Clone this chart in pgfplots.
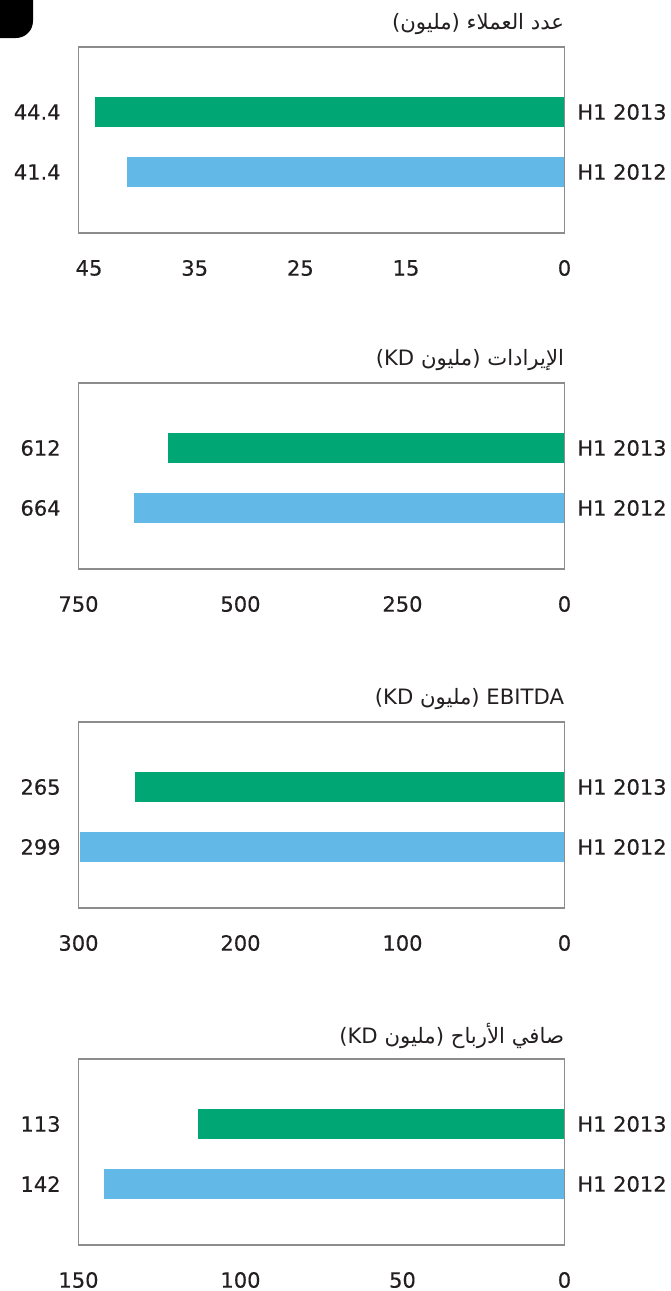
\documentclass[border=0pt]{standalone}
\usepackage{fontspec}
\setmainfont{DejaVu Sans}
\newfontfamily\lblfam{DejaVu Sans}[FakeBold=0.35]
\newfontfamily\arabicfont[Script=Arabic]{DejaVu Sans}
\TeXXeTstate=1
\usepackage{pgfplots}
\pgfplotsset{compat=1.18}
\definecolor{gbar}{RGB}{0,166,116}
\definecolor{bbar}{RGB}{98,185,232}
\definecolor{boxc}{RGB}{140,140,140}
\definecolor{txt}{RGB}{35,31,32}
\newcommand\ar[1]{{\arabicfont\beginR #1\endR}}
\newcommand\lblfont{\lblfam\fontsize{10.5}{13}\selectfont}
\newcommand\ttlfont{\fontsize{10.6}{12}\selectfont}
\pgfplotsset{panel/.style={
  scale only axis, width=243pt, height=93pt,
  xbar, bar width=0.49,
  x dir=reverse, xmin=0,
  ymin=-1.017, ymax=2.083,
  ytick={0,1},
  major tick length=0pt,
  axis line style={draw=boxc, line width=0.6pt},
  tick label style={font=\lblfont, text=txt},
  xticklabel style={anchor=center, yshift=-17.5pt},
  yticklabel style={inner sep=0pt, xshift=-8.75pt},
  /pgf/number format/assume math mode=true,
  /pgf/number format/1000 sep={},
  clip=false,
  anchor=north west,
}}
\tikzset{rlab/.style={anchor=west, font=\lblfont, text=txt, xshift=6.25pt, inner sep=0pt},
  ttl/.style={anchor=east, font=\ttlfont, text=txt, yshift=11.5pt, inner sep=0pt}}
\begin{document}
\begin{tikzpicture}
\useasboundingbox (0,0) rectangle (335pt,-645.5pt);
\fill[black] (0,0) -- (16.5pt,0) -- (16.5pt,-10.5pt) arc[start angle=0,end angle=-90,radius=8.5pt] -- (0,-19pt) -- cycle;

% Panel 1
\begin{axis}[panel, at={(39.25pt,-23.5pt)}, xmax=46, xtick={0,15,25,35,45},
  yticklabels={41.4,44.4}]
\addplot[fill=gbar, draw=none, bar shift=0pt] coordinates {(44.4,1)};
\addplot[fill=bbar, draw=none, bar shift=0pt] coordinates {(41.4,0)};
\node[rlab] at (axis cs:0,1) {H1 2013};
\node[rlab] at (axis cs:0,0) {H1 2012};
\node[ttl] at (axis cs:0,2.083) {(\ar{مليون}) \ar{عدد العملاء}};
\end{axis}

% Panel 2
\begin{axis}[panel, at={(39.25pt,-191.5pt)}, xmax=750, xtick={0,250,500,750},
  yticklabels={664,612}]
\addplot[fill=gbar, draw=none, bar shift=0pt] coordinates {(612,1)};
\addplot[fill=bbar, draw=none, bar shift=0pt] coordinates {(664,0)};
\node[rlab] at (axis cs:0,1) {H1 2013};
\node[rlab] at (axis cs:0,0) {H1 2012};
\node[ttl] at (axis cs:0,2.083) {(KD \ar{مليون}) \ar{الإيرادات}};
\end{axis}

% Panel 3
\begin{axis}[panel, at={(39.25pt,-361pt)}, xmax=300, xtick={0,100,200,300},
  yticklabels={299,265}]
\addplot[fill=gbar, draw=none, bar shift=0pt] coordinates {(265,1)};
\addplot[fill=bbar, draw=none, bar shift=0pt] coordinates {(299,0)};
\node[rlab] at (axis cs:0,1) {H1 2013};
\node[rlab] at (axis cs:0,0) {H1 2012};
\node[ttl] at (axis cs:0,2.083) {(KD \ar{مليون}) EBITDA};
\end{axis}

% Panel 4
\begin{axis}[panel, at={(39.25pt,-529.5pt)}, xmax=150, xtick={0,50,100,150},
  yticklabels={142,113}]
\addplot[fill=gbar, draw=none, bar shift=0pt] coordinates {(113,1)};
\addplot[fill=bbar, draw=none, bar shift=0pt] coordinates {(142,0)};
\node[rlab] at (axis cs:0,1) {H1 2013};
\node[rlab] at (axis cs:0,0) {H1 2012};
\node[ttl] at (axis cs:0,2.083) {(KD \ar{مليون}) \ar{صافي الأرباح}};
\end{axis}
\end{tikzpicture}
\end{document}
